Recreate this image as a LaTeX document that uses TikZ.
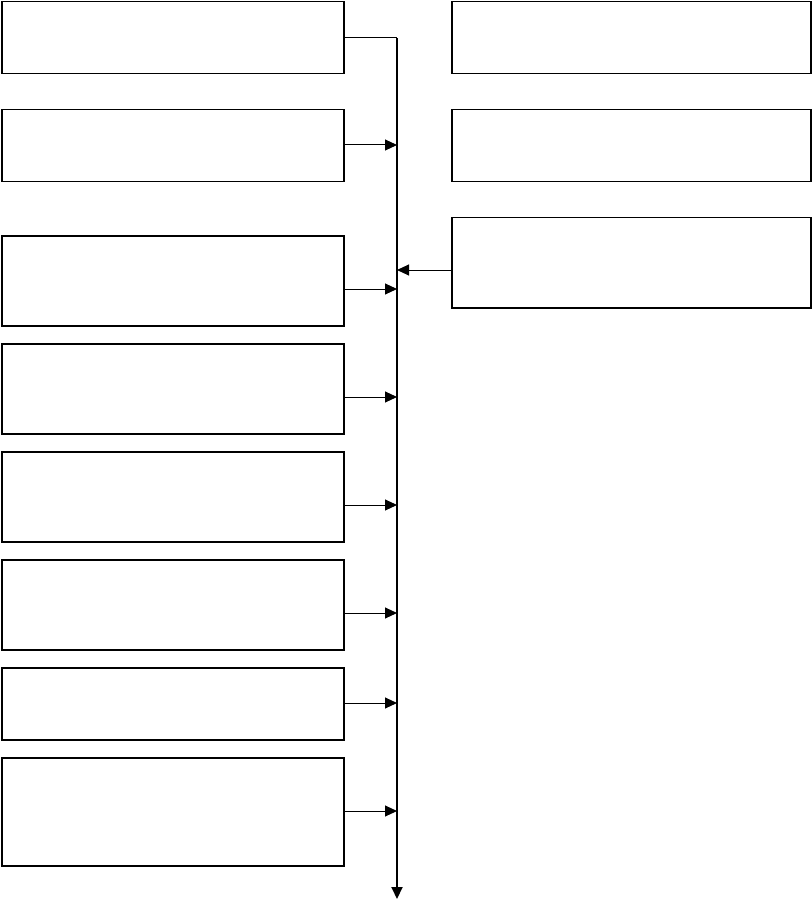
\documentclass[tikz,border=0pt]{standalone}
\usetikzlibrary{arrows.meta}

\begin{document}
\begin{tikzpicture}[x=1pt, y=-1pt,
    blockbox/.style={draw, line width=1.5pt, inner sep=0pt, anchor=north west, minimum width=342pt},
    feed/.style={line width=1pt, -{Triangle[length=12pt,width=11pt]}}]
    \useasboundingbox (0,0) rectangle (811,901);
    % left column
    \node[blockbox, minimum height=72pt] (b1) at (1,1) {};
    \foreach \n/\t/\h/\a in {2/109/72/145, 3/235/90/289, 4/343/90/397, 5/451/90/505, 6/559/90/613, 7/667/72/703, 8/757/108/811} {
      \node[blockbox, minimum height=\h pt] (b\n) at (1,\t) {};
      \coordinate (a\n) at (343,\a);
    }
    % right column
    \node[blockbox, minimum width=359pt, minimum height=72pt] (r1) at (451,1) {};
    \node[blockbox, minimum width=359pt, minimum height=72pt] (r2) at (451,109) {};
    \node[blockbox, minimum width=359pt, minimum height=90pt] (r3) at (451,217) {};
    \coordinate (ar3) at (451,270);
    % bus
    \coordinate (bustop) at (397,38);
    \coordinate (busend) at (397,899);
    \draw[line width=1pt] (b1.east |- bustop) -- (bustop);
    \draw[line width=2pt, -{Triangle[length=12pt,width=11pt]}] (bustop) -- (busend);
    \foreach \n in {2,...,8} {
      \draw[feed] (a\n) -- (a\n -| bustop);
    }
    \draw[feed] (ar3) -- (ar3 -| bustop);
  \end{tikzpicture}
\end{document}
